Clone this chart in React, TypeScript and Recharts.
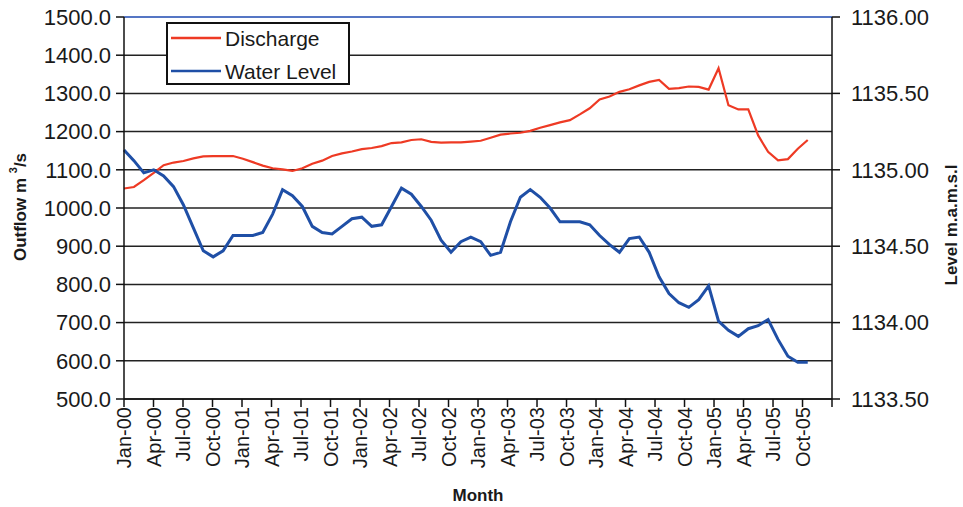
import React from 'react';
import {
  LineChart,
  Line,
  XAxis,
  YAxis,
  CartesianGrid,
  Legend,
  ReferenceLine,
} from 'recharts';

// Monthly readings, Jan-00 .. Oct-05
const MONTH_NAMES = ['Jan', 'Feb', 'Mar', 'Apr', 'May', 'Jun', 'Jul', 'Aug', 'Sep', 'Oct', 'Nov', 'Dec'];
const YEARS = ['00', '01', '02', '03', '04', '05'];

const DISCHARGE = [
  1051, 1055, 1073, 1092, 1112, 1119, 1123, 1130, 1135, 1136,
  1136, 1136, 1129, 1120, 1111, 1104, 1101, 1097, 1104, 1116,
  1124, 1136, 1143, 1148, 1154, 1157, 1162, 1170, 1172, 1178,
  1180, 1173, 1171, 1172, 1172, 1174, 1176, 1184, 1192, 1195,
  1197, 1202, 1210, 1217, 1224, 1230, 1245, 1261, 1284, 1292,
  1304, 1311, 1321, 1330, 1335, 1312, 1314, 1318, 1317, 1310,
  1366, 1269, 1258, 1258, 1190, 1147, 1125, 1128, 1155, 1178,
];

const WATER_LEVEL = [
  1135.13, 1135.06, 1134.98, 1135.0, 1134.96, 1134.89, 1134.77, 1134.62, 1134.47, 1134.43,
  1134.47, 1134.57, 1134.57, 1134.57, 1134.59, 1134.71, 1134.87, 1134.83, 1134.76, 1134.63,
  1134.59, 1134.58, 1134.63, 1134.68, 1134.69, 1134.63, 1134.64, 1134.76, 1134.88, 1134.84,
  1134.76, 1134.67, 1134.54, 1134.46, 1134.53, 1134.56, 1134.53, 1134.44, 1134.46, 1134.66,
  1134.82, 1134.87, 1134.82, 1134.75, 1134.66, 1134.66, 1134.66, 1134.64, 1134.57, 1134.51,
  1134.46, 1134.55, 1134.56, 1134.46, 1134.3, 1134.19, 1134.13, 1134.1, 1134.15, 1134.24,
  1134.01, 1133.95, 1133.91, 1133.96, 1133.98, 1134.02, 1133.89, 1133.78, 1133.74, 1133.74,
];

const TICK_LABELS = [
  'Jan-00', 'Apr-00', 'Jul-00', 'Oct-00', 'Jan-01', 'Apr-01', 'Jul-01', 'Oct-01',
  'Jan-02', 'Apr-02', 'Jul-02', 'Oct-02', 'Jan-03', 'Apr-03', 'Jul-03', 'Oct-03',
  'Jan-04', 'Apr-04', 'Jul-04', 'Oct-04', 'Jan-05', 'Apr-05', 'Jul-05', 'Oct-05',
];

const OUTFLOW_TICKS = [500, 600, 700, 800, 900, 1000, 1100, 1200, 1300, 1400, 1500];
const LEVEL_TICKS = [1133.5, 1134, 1134.5, 1135, 1135.5, 1136];

const FONT = '"Liberation Sans", Arial, sans-serif';
const RED = '#EE3A24';
const BLUE = '#1F4FA6';
const INK = '#1a1a1a';

// x axis runs a little past the last reading; quarter ticks sit slightly tighter than the data
const X_END = 71.45;
const QUARTER = 3 * 0.9924;
const xTicks = [...TICK_LABELS.map((_, k) => k * QUARTER), X_END];

const months = YEARS.flatMap(y => MONTH_NAMES.map(m => `${m}-${y}`)).slice(0, DISCHARGE.length);

const chartData = months.map((month, i) => ({
  idx: i,
  month,
  discharge: DISCHARGE[i],
  level: WATER_LEVEL[i],
}));

const MonthTick = ({ x, y, payload }: any) => {
  const label = TICK_LABELS[Math.round(payload.value / QUARTER)] ?? '';
  return (
    <text
      transform={`translate(${x},${y - 2}) rotate(-90)`}
      textAnchor="end"
      dominantBaseline="central"
      fontSize={20}
      fontFamily={FONT}
      fill={INK}
    >
      {label}
    </text>
  );
};

// legend drawn as its own little svg so the frame always shows
const renderLegend = (props: any) => {
  const { payload } = props;
  return (
    <svg width={184} height={63} style={{ display: 'block', overflow: 'visible' }}>
      <rect x={1} y={1} width={182} height={61} fill="#fff" stroke="#111" strokeWidth={2} />
      {payload.map((entry: any, index: number) => (
        <g key={`legend-${index}`} transform={`translate(0, ${16 + index * 33})`}>
          <line x1={5} y1={0} x2={55} y2={0} stroke={entry.color} strokeWidth={2.5} />
          <text x={59} y={0} dominantBaseline="central" fontSize={21} fontFamily={FONT} fill={INK}>
            {entry.value}
          </text>
        </g>
      ))}
    </svg>
  );
};

const OutflowTitle = () => (
  <text
    transform="translate(20,207) rotate(-90)"
    textAnchor="middle"
    dominantBaseline="central"
    fontSize={17}
    fontWeight="bold"
    fontFamily={FONT}
    fill={INK}
  >
    Outflow m{' '}
    <tspan dy={-7} fontSize={11}>3</tspan>
    <tspan dy={7}>/s</tspan>
  </text>
);

const LevelTitle = () => (
  <text
    transform="translate(951,225) rotate(-90)"
    textAnchor="middle"
    dominantBaseline="central"
    fontSize={17}
    fontWeight="bold"
    fontFamily={FONT}
    fill={INK}
  >
    Level m.a.m.s.l
  </text>
);

const MonthTitle = () => (
  <text x={478} y={495} textAnchor="middle" dominantBaseline="central" fontSize={17} fontWeight="bold" fontFamily={FONT} fill={INK}>
    Month
  </text>
);

export default function App() {
  return (
    <div style={{ position: 'absolute', left: 0, top: 0, width: 963, height: 507, background: '#fff' }}>
      <LineChart width={963} height={507} data={chartData} margin={{ top: 17, right: 0, bottom: 0, left: 0 }}>
        <CartesianGrid yAxisId="left" vertical={false} stroke="#222" strokeWidth={1.5} />
        <XAxis
          dataKey="idx"
          type="number"
          domain={[0, X_END]}
          ticks={xTicks}
          interval={0}
          height={108}
          tick={<MonthTick />}
          tickSize={8}
          tickMargin={2}
          axisLine={{ stroke: '#111', strokeWidth: 1.5 }}
          tickLine={{ stroke: '#111', strokeWidth: 1.5 }}
          label={{ content: () => <MonthTitle /> }}
        />
        <YAxis
          yAxisId="left"
          orientation="left"
          width={124}
          domain={[500, 1500]}
          ticks={OUTFLOW_TICKS}
          interval={0}
          tickFormatter={(v: number) => v.toFixed(1)}
          tick={{ fontSize: 22, fontFamily: FONT, fill: INK }}
          tickSize={8}
          tickMargin={5}
          axisLine={{ stroke: '#111', strokeWidth: 1.5 }}
          tickLine={{ stroke: '#111', strokeWidth: 1.5 }}
          label={{ content: () => <OutflowTitle /> }}
        />
        <YAxis
          yAxisId="right"
          orientation="right"
          width={131}
          domain={[1133.5, 1136]}
          ticks={LEVEL_TICKS}
          interval={0}
          tickFormatter={(v: number) => v.toFixed(2)}
          tick={{ fontSize: 22, fontFamily: FONT, fill: INK }}
          tickSize={8}
          tickMargin={11}
          axisLine={{ stroke: '#111', strokeWidth: 1.5 }}
          tickLine={{ stroke: '#111', strokeWidth: 1.5 }}
          label={{ content: () => <LevelTitle /> }}
        />
        <ReferenceLine yAxisId="left" y={1500} stroke="#5576C4" strokeWidth={2} />
        <Legend
          layout="vertical"
          align="center"
          verticalAlign="middle"
          content={renderLegend}
          wrapperStyle={{ left: 166, top: 22, width: 184, height: 63 }}
        />
        <Line
          yAxisId="left"
          type="linear"
          dataKey="discharge"
          name="Discharge"
          stroke={RED}
          strokeWidth={2.2}
          dot={false}
          isAnimationActive={false}
        />
        <Line
          yAxisId="right"
          type="linear"
          dataKey="level"
          name="Water Level"
          stroke={BLUE}
          strokeWidth={3}
          dot={false}
          isAnimationActive={false}
        />
      </LineChart>
    </div>
  );
}
